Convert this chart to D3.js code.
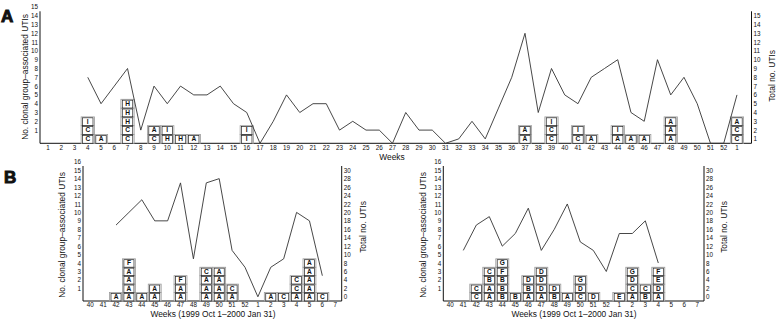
<!DOCTYPE html>
<html>
<head>
<meta charset="utf-8">
<script src="https://cdn.jsdelivr.net/npm/d3@7/dist/d3.min.js"></script>
<style>
  body { margin: 0; background: #fff; }
  text { font-family: "Liberation Sans", Arial, sans-serif; fill: #111; }
</style>
</head>
<body>
<svg id="canvas" width="780" height="327"></svg>
<script>
// ---- panel A: weekly, one year + first week of next ----
var weeksA = ["1","2","3","4","5","6","7","8","9","10","11","12","13","14","15","16","17","18","19","20",
  "21","22","23","24","25","26","27","28","29","30","31","32","33","34","35","36","37","38","39","40",
  "41","42","43","44","45","46","47","48","49","50","51","52","1"];
// clonal group letters per week, bottom to top
var stacksA = ["","","","CCI","A","","CCHHH","","CA","HI","H","A","","","","II","","","","",
  "","","","","","","","","","","","","","","","","AA","","CCI","",
  "CI","A","","AI","A","A","","AAA","","","","","CCA"];
var totalsA = [null,null,null,8,5,7,9,2,7,5,7,6,6,7,5,4,0,3,6,4,
  5,5,2,3,2,2,0,4,2,2,0,1,3,1,4.5,8,13,4,9,6,
  5,8,9,10,4,3,10,6,8,5,0,0,6];
var countTicksA = [1,2,3,4,5,6,7,8,9,10,11,12,13,14,15];
var totalTicksA = [1,2,3,4,5,6,7,8,9,10,11,12,13,14,15];

// ---- panel B: 1999 Oct 1 - 2000 Jan 31, two sites ----
var weeksB = ["40","41","42","43","44","45","46","47","48","49","50","51","52","1","2","3","4","5","6","7"];
var stacksB1 = ["","","A","AAAAF","A","AA","","AAF","","AAAC","AAAA","AC","","","A","C","ACC","AAAAA","C",""];
var totalsB1 = [null,null,17,20,23,18,18,27,9,27,28,11,7,0,7,9,20,18,5,null];
var stacksB2 = ["","","CC","AABC","BBBFG","B","ABD","ADDD","BD","A","CDG","D","","E","ACDG","BC","ADEF","","",""];
var totalsB2 = [null,11,17,19,12,15,21,11,16,22,13,11,6,15,15,18,8,null,null,null];
var countTicksB = [1,2,3,4,5,6,7,8,9,10,11,12,13,14,15,16];
var totalTicksB = [0,2,4,6,8,10,12,14,16,18,20,22,24,26,28,30];

var svg = d3.select("#canvas");
svg.append("rect").attr("width", 780).attr("height", 327).attr("fill", "#fff");

function drawPanel(p) {
  let g = svg.append("g");
  let x = d3.scaleBand().domain(d3.range(p.weeks.length)).range(p.band);
  let y = d3.scaleLinear().domain([0, p.maxCount]).range([p.bottom, p.top]);
  // line scale: ticks of the right axis sit beside the box centres
  let y2 = d3.scaleLinear().domain(p.lineDomain).range([y(p.lineAt[0]), y(p.lineAt[1])]).clamp(true);
  let yTick = d3.scaleLinear().domain([0, p.maxCount]).range([y(0.5), y(p.maxCount + 0.5)]);

  // frame
  g.append("path")
    .attr("d", "M" + p.left + "," + y(p.maxCount) + "V" + p.bottom + "H" + p.right + "V" + y(p.maxCount))
    .attr("fill", "none").attr("stroke", "#111").attr("stroke-width", 1);

  // stacked boxes
  p.stacks.forEach((s, i) => {
    s.split("").forEach((letter, j) => {
      let bx = x(i), bw = x.bandwidth();
      let by = y(j + 1), bh = y(j) - y(j + 1);
      g.append("rect").attr("x", bx).attr("y", by).attr("width", bw).attr("height", bh)
        .attr("fill", "#fff").attr("stroke", "#9a9a9a").attr("stroke-width", 0.8);
      g.append("rect").attr("x", bx + 1.4).attr("y", by + 0.9).attr("width", bw - 2.8).attr("height", bh - 0.9)
        .attr("fill", "none").attr("stroke", "#222").attr("stroke-width", 0.7);
      g.append("text").text(letter)
        .attr("x", bx + bw / 2).attr("y", by + bh / 2 + 2.3)
        .attr("text-anchor", "middle")
        .style("font-size", "6.6px").style("font-weight", "bold");
    });
  });

  // total line
  let line = d3.line()
    .defined(d => d != null)
    .x((d, i) => x(i) + x.bandwidth() / 2)
    .y(d => y2(d));
  g.append("path").datum(p.totals)
    .attr("d", line)
    .attr("fill", "none").attr("stroke", "#333").attr("stroke-width", 0.9);

  // axes (labels only, lines drawn above)
  let xAxis = g.append("g").attr("transform", "translate(0," + p.bottom + ")")
    .call(d3.axisBottom(x).tickSize(0).tickPadding(p.xPad).tickFormat(i => p.weeks[i]));
  let lAxis = g.append("g").attr("transform", "translate(" + p.left + ",0)")
    .call(d3.axisLeft(yTick).tickValues(p.countTicks).tickSize(0).tickPadding(2));
  let rScale = p.rightIsCount ? yTick : y2;
  let rAxis = g.append("g").attr("transform", "translate(" + p.right + ",0)")
    .call(d3.axisRight(rScale).tickValues(p.totalTicks).tickSize(0).tickPadding(2));
  [xAxis, lAxis, rAxis].forEach(a => {
    a.select(".domain").remove();
    a.selectAll("text").style("font-size", "6.3px").style("font-family", "Liberation Sans, Arial, sans-serif").attr("fill", "#222");
  });

  // titles
  g.append("text").text("No. clonal group\u2013associated UTIs")
    .attr("transform", "translate(" + p.leftTitle[0] + "," + p.leftTitle[1] + ") rotate(-90)")
    .attr("text-anchor", "middle").style("font-size", p.titleSize + "px").attr("fill", "#222");
  g.append("text").text("Total no. UTIs")
    .attr("transform", "translate(" + p.rightTitle[0] + "," + p.rightTitle[1] + ") rotate(-90)")
    .attr("text-anchor", "middle").style("font-size", p.titleSize + "px").attr("fill", "#222");
  g.append("text").text(p.xTitle)
    .attr("x", p.xTitlePos[0]).attr("y", p.xTitlePos[1])
    .attr("text-anchor", "middle").style("font-size", p.titleSize + "px").attr("fill", "#222");
}

drawPanel({
  weeks: weeksA, stacks: stacksA, totals: totalsA,
  countTicks: countTicksA, totalTicks: totalTicksA, rightIsCount: false,
  band: [41.4, 743.6], left: 40, right: 751.5, bottom: 143.3, top: 11.3, maxCount: 15,
  lineDomain: [0.5, 15.5], lineAt: [0, 15], xPad: 2.5,
  leftTitle: [28, 77], rightTitle: [775, 76], xTitle: "Weeks", xTitlePos: [392, 160], titleSize: 8.4
});

drawPanel({
  weeks: weeksB, stacks: stacksB1, totals: totalsB1,
  countTicks: countTicksB, totalTicks: totalTicksB, rightIsCount: false,
  band: [83.8, 341.7], left: 83, right: 341.7, bottom: 301, top: 166, maxCount: 16,
  lineDomain: [-1, 30], lineAt: [0, 15.5], xPad: 1.8,
  leftTitle: [64.5, 235], rightTitle: [366, 227], xTitle: "Weeks (1999 Oct 1\u20132000 Jan 31)", xTitlePos: [213, 317], titleSize: 8.4
});

drawPanel({
  weeks: weeksB, stacks: stacksB2, totals: totalsB2,
  countTicks: countTicksB, totalTicks: totalTicksB, rightIsCount: false,
  band: [443.8, 703.8], left: 443.3, right: 704, bottom: 301, top: 166, maxCount: 16,
  lineDomain: [-1, 30], lineAt: [0, 15.5], xPad: 1.8,
  leftTitle: [426, 235], rightTitle: [727, 227], xTitle: "Weeks (1999 Oct 1\u20132000 Jan 31)", xTitlePos: [574, 317], titleSize: 8.4
});

// panel letters
svg.append("text").text("A").attr("x", 1).attr("y", 22)
  .style("font-size", "17px").style("font-weight", "bold").attr("stroke", "#111").attr("stroke-width", 1);
svg.append("text").text("B").attr("x", 4).attr("y", 183)
  .style("font-size", "17px").style("font-weight", "bold").attr("stroke", "#111").attr("stroke-width", 1);
</script>
</body>
</html>
